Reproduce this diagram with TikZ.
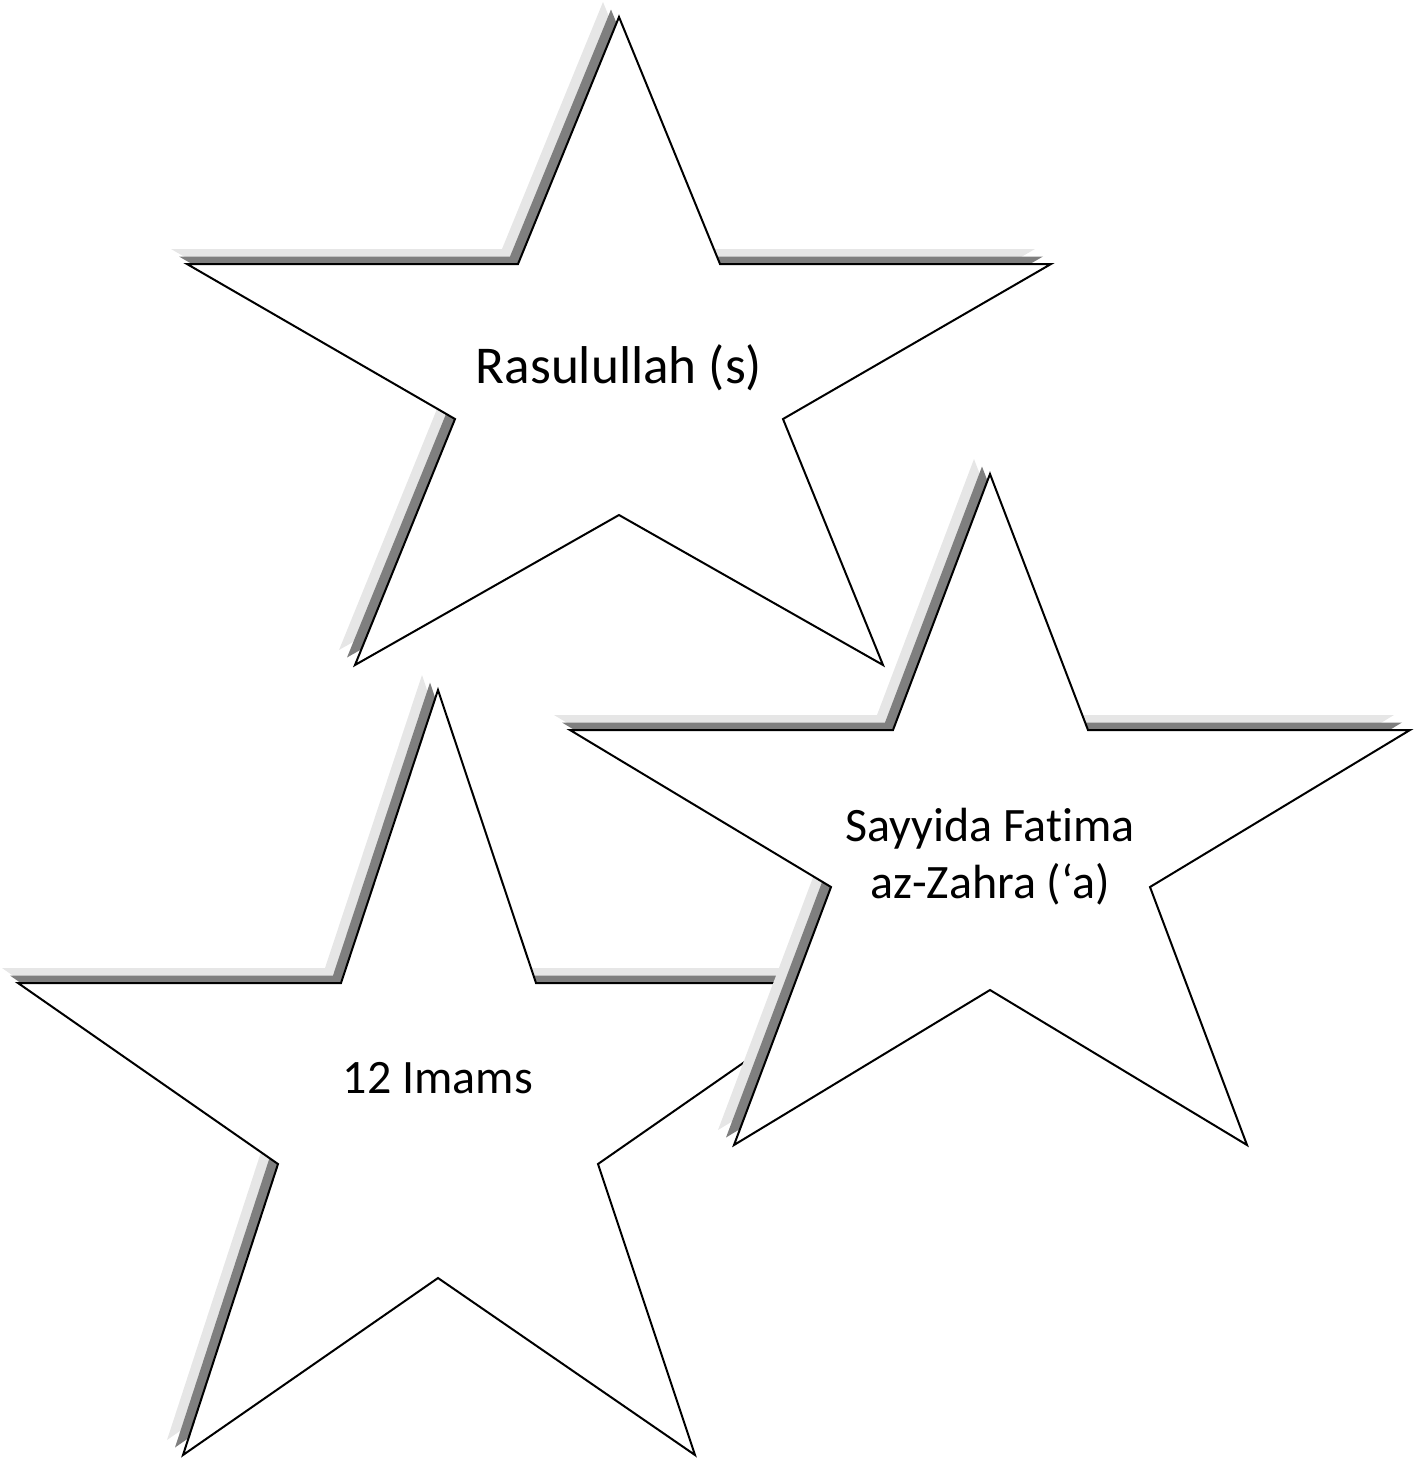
\documentclass[tikz,border=0pt]{standalone}
\usepackage{fontspec}
\setmainfont{Carlito}[Ligatures=NoCommon]
\definecolor{shdark}{HTML}{7F7F7F}
\definecolor{shlight}{HTML}{E6E6E6}
\begin{document}
\begin{tikzpicture}[x=0.5pt,y=-0.5pt,
  shlightstyle/.style={fill=shlight,draw=none},
  shdarkstyle/.style={fill=shdark,draw=none},
  starbody/.style={fill=white,draw=black,line width=1pt,line join=miter},
  label/.style={font=\fontsize{24pt}{28.5pt}\selectfont,align=center,inner sep=0pt},
  biglabel/.style={font=\fontsize{26.6pt}{31pt}\selectfont,align=center,inner sep=0pt}]
\useasboundingbox (0,0) rectangle (1424,1458);
\def\starA{(619,17) -- (720,264) -- (1051,264) -- (783,419) -- (883,665) -- (619,515) -- (355,665) -- (455,419) -- (187,264) -- (518,264) -- cycle}
\def\starB{(990,474) -- (1088,730) -- (1410,730) -- (1150,887) -- (1247,1145) -- (990,990) -- (734,1145) -- (831,887) -- (570,730) -- (893,730) -- cycle}
\def\starC{(438,690) -- (536,983) -- (858,983) -- (598,1164) -- (695,1455) -- (438,1278) -- (183,1455) -- (278,1164) -- (18,983) -- (341,983) -- cycle}
% star 1
\fill[shlightstyle,shift={(-16,-15)}] \starA;
\fill[shdarkstyle,shift={(-8,-7.5)}] \starA;
\filldraw[starbody] \starA;
% star 3
\fill[shlightstyle,shift={(-16,-15)}] \starC;
\fill[shdarkstyle,shift={(-8,-7.5)}] \starC;
\filldraw[starbody] \starC;
% star 2
\fill[shlightstyle,shift={(-16,-15)}] \starB;
\fill[shdarkstyle,shift={(-8,-7.5)}] \starB;
\filldraw[starbody] \starB;
\node[biglabel] (rasul) at (619,368) {Rasulullah (s)};
\node[label] (fatima) at (990,857) {Sayyida Fatima\\az-Zahra (‘a)};
\node[label] (imams) at (438,1078) {12 Imams};
\end{tikzpicture}
\end{document}
